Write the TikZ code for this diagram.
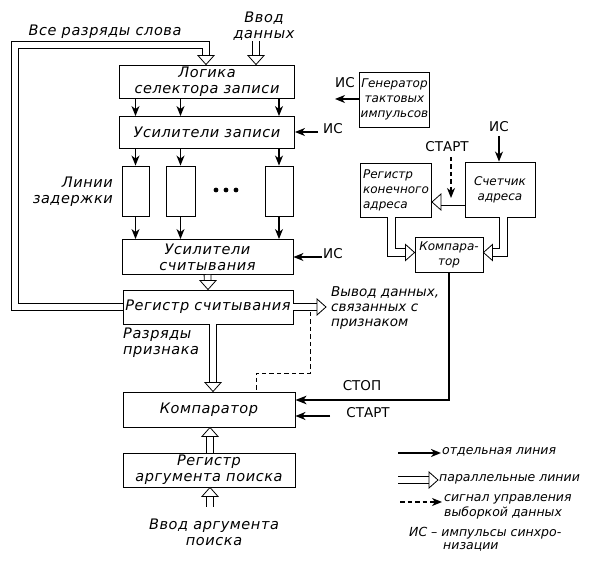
\documentclass[tikz,border=0pt]{standalone}
\usepackage{fontspec}
\setmainfont{DejaVu Sans}
\newfontfamily\spacedfont{DejaVu Sans}[LetterSpace=4]
\usetikzlibrary{arrows.meta,calc}
\newcommand\myBigF{\spacedfont\itshape\fontsize{14.5}{16}\selectfont}
\newcommand\myLegF{\itshape\fontsize{12.5}{14.5}\selectfont}
\newcommand\myOutF{\itshape\fontsize{13.5}{15}\selectfont}
\newcommand\mySmallF{\itshape\fontsize{12}{15}\selectfont}
\newcommand\myUpF{\upshape\fontsize{13.5}{15}\selectfont}
\begin{document}
\begin{tikzpicture}[x=1pt,y=-1pt,
  box/.style={draw, line width=0.9pt, inner sep=1pt, align=center, font=\myBigF},
  sbox/.style={draw, line width=0.9pt, inner sep=1pt, align=center, font=\mySmallF},
  lbl/.style={inner sep=0pt, align=center, font=\myBigF},
  leg/.style={inner sep=0pt, align=left, anchor=west, font=\myLegF},
  uplbl/.style={inner sep=0pt, font=\myUpF},
  sarr/.style={line width=1.2pt, -{Stealth[length=10pt,width=8pt,inset=3pt]}},
  parl/.style={double, double distance=6pt, line width=0.8pt, shorten >=8.5pt},
  otip/.pic={\draw[line width=0.8pt, fill=white, line join=miter] (0pt,0pt) -- (-9pt,8pt) -- (-9pt,-8pt) -- cycle;},
  dsh/.style={line width=0.9pt, dash pattern=on 4.5pt off 3pt}
]
\useasboundingbox (0,0) rectangle (590,561);

% main column boxes
\node[box, minimum width=175pt, minimum height=33pt] (logic) at (207,81.5) {Логика\\селектора записи};
\node[box, minimum width=175pt, minimum height=32pt] (wamp) at (207,132.5) {Усилители записи};
\node[box, minimum width=27pt, minimum height=50pt] (d1) at (135.5,191) {};
\node[box, minimum width=29pt, minimum height=50pt] (d2) at (180.5,191) {};
\node[box, minimum width=28pt, minimum height=50pt] (d3) at (279,191) {};
\node[box, minimum width=171pt, minimum height=35pt] (ramp) at (207.5,257) {Усилители\\считывания};
\node[box, minimum width=170pt, minimum height=34pt] (rreg) at (208,307) {Регистр считывания};
\node[box, minimum width=172pt, minimum height=35pt] (comp) at (209,409.5) {Компаратор};
\node[box, minimum width=172pt, minimum height=34pt] (areg) at (209,470) {Регистр\\аргумента поиска};

% right boxes
\node[sbox, minimum width=69pt, minimum height=55pt] (gen) at (394.5,99.5) {Генератор\\тактовых\\импульсов};
\node[sbox, minimum width=71pt, minimum height=54pt, align=left] (endreg) at (396,190) {Регистр\\конечного\\адреса};
\node[sbox, minimum width=70pt, minimum height=55pt] (cnt) at (500,189.5) {Счетчик\\адреса};
\node[sbox, minimum width=68pt, minimum height=35pt] (scomp) at (449,254.5) {Компара-\\тор};

% dots
\fill (216,190) circle (2.4pt) (226,190) circle (2.4pt) (236,190) circle (2.4pt);

% labels
\node[lbl] (allbits) at (105,32) {Все разряды слова};
\node[lbl] (vd) at (264,26) {Ввод\\данных};
\node[lbl, anchor=east, align=right] (dl) at (113,192) {Линии\\задержки};
\node[lbl, anchor=west, align=left] (rp) at (123,343) {Разряды\\признака};
\node[lbl, anchor=west, align=left, font=\myOutF] (out) at (331,308) {Вывод данных,\\связанных с\\признаком};
\node[lbl] (inarg) at (214,532) {Ввод аргумента\\поиска};
\node[uplbl] (stop) at (362,386) {СТОП};
\node[uplbl] (start) at (368,413) {СТАРТ};
\node[uplbl] (start2) at (447,147) {СТАРТ};
\node[uplbl] (is1) at (333,129) {ИС};
\node[uplbl] (is2) at (333,254) {ИС};
\node[uplbl] (is3) at (345,83) {ИС};
\node[uplbl] (is4) at (499,127) {ИС};

% single arrows through the delay lines
\foreach \d in {d1,d2,d3} {
  \draw[sarr] (\d.north |- logic.south) -- (\d.north |- wamp.north);
  \draw[sarr] (\d.north |- wamp.south) -- (\d.north);
  \draw[sarr] (\d.south) -- (\d.south |- ramp.north);
}

% IS arrows
\coordinate (i1) at (318,132);
\draw[sarr] (i1) -- (i1 -| wamp.east);
\coordinate (i2) at (322,257);
\draw[sarr] (i2) -- (i2 -| ramp.east);
\coordinate (i3) at (335,99);
\draw[sarr] (i3 -| gen.west) -- (i3);
\coordinate (i4) at (499,136);
\draw[sarr] (i4) -- (i4 |- cnt.north);

% feedback double line
\draw[parl] (rreg.west) -| (15,45) -| ([xshift=-1pt]logic.north);
\pic[rotate=-90] at ([xshift=-1pt]logic.north) {otip};

% data input
\coordinate (din) at (256,41);
\draw[parl] (din) -- (din |- logic.north);
\pic[rotate=-90] at (din |- logic.north) {otip};

% ramp -> rreg
\draw[parl] (ramp.south) -- (rreg.north);
\pic[rotate=-90] at (rreg.north) {otip};

% rreg -> comp
\coordinate (pa) at ([xshift=5pt]rreg.south);
\draw[parl] (pa) -- (pa |- comp.north);
\pic[rotate=-90] at (pa |- comp.north) {otip};

% areg -> comp
\draw[parl] ([xshift=1pt]areg.north) -- ([xshift=1pt]comp.south);
\pic[rotate=90] at ([xshift=1pt]comp.south) {otip};

% input -> areg
\coordinate (ia) at (210,507);
\draw[parl] (ia) -- (ia |- areg.south);
\pic[rotate=90] at (ia |- areg.south) {otip};

% output
\coordinate (ot) at (326,307);
\draw[parl] (rreg.east) -- (ot);
\pic at (ot) {otip};

% dashed control
\coordinate (dc) at (310,312);
\coordinate (dk) at (256,373);
\draw[dsh] (dc) |- (dk) -- (dk |- comp.north);

% STOP / START
\draw[line width=1.8pt, -{Stealth[length=11pt,width=8.5pt,inset=3pt]}] (scomp.south) |- ([yshift=9.5pt]comp.east);
\coordinate (sa) at (330,416);
\draw[line width=1.4pt, -{Stealth[length=10pt,width=8pt,inset=3pt]}] (sa) -- (sa -| comp.east);

% right section
\begin{scope}[parl/.append style={double distance=7pt}]
\coordinate (cw) at ([yshift=-12.5pt]cnt.west);
\draw[parl] (cw) -- (cw -| endreg.east);
\pic[rotate=180] at (cw -| endreg.east) {otip};
\draw[parl] ([xshift=-4.5pt]endreg.south) |- ([yshift=2pt]scomp.west);
\pic at ([yshift=2pt]scomp.west) {otip};
\draw[parl] ([xshift=3.5pt]cnt.south) |- ([yshift=2pt]scomp.east);
\pic[rotate=180] at ([yshift=2pt]scomp.east) {otip};
\end{scope}
\coordinate (sd) at (451,157);
\coordinate (se) at (451,198);
\draw[dsh, sarr] (sd) -- (se);

% legend
\coordinate (l1a) at (398,453); \coordinate (l1b) at (441,453);
\draw[sarr, line width=1.8pt] (l1a) -- (l1b);
\node[leg] (t1) at (442,452) {отдельная линия};
\coordinate (l2a) at (398,480); \coordinate (l2b) at (438,480);
\draw[parl] (l2a) -- (l2b);
\pic at (l2b) {otip};
\node[leg] (t2) at (439,479) {параллельные линии};
\coordinate (l3a) at (400,502); \coordinate (l3b) at (442,502);
\draw[dsh, sarr] (l3a) -- (l3b);
\node[leg] (t3) at (444,507) {сигнал управления\\выборкой данных};
\node[leg] (t4) at (409,533) {ИС – импульсы синхро-};
\node[leg] (t5) at (443,547) {низации};
\end{tikzpicture}
\end{document}
